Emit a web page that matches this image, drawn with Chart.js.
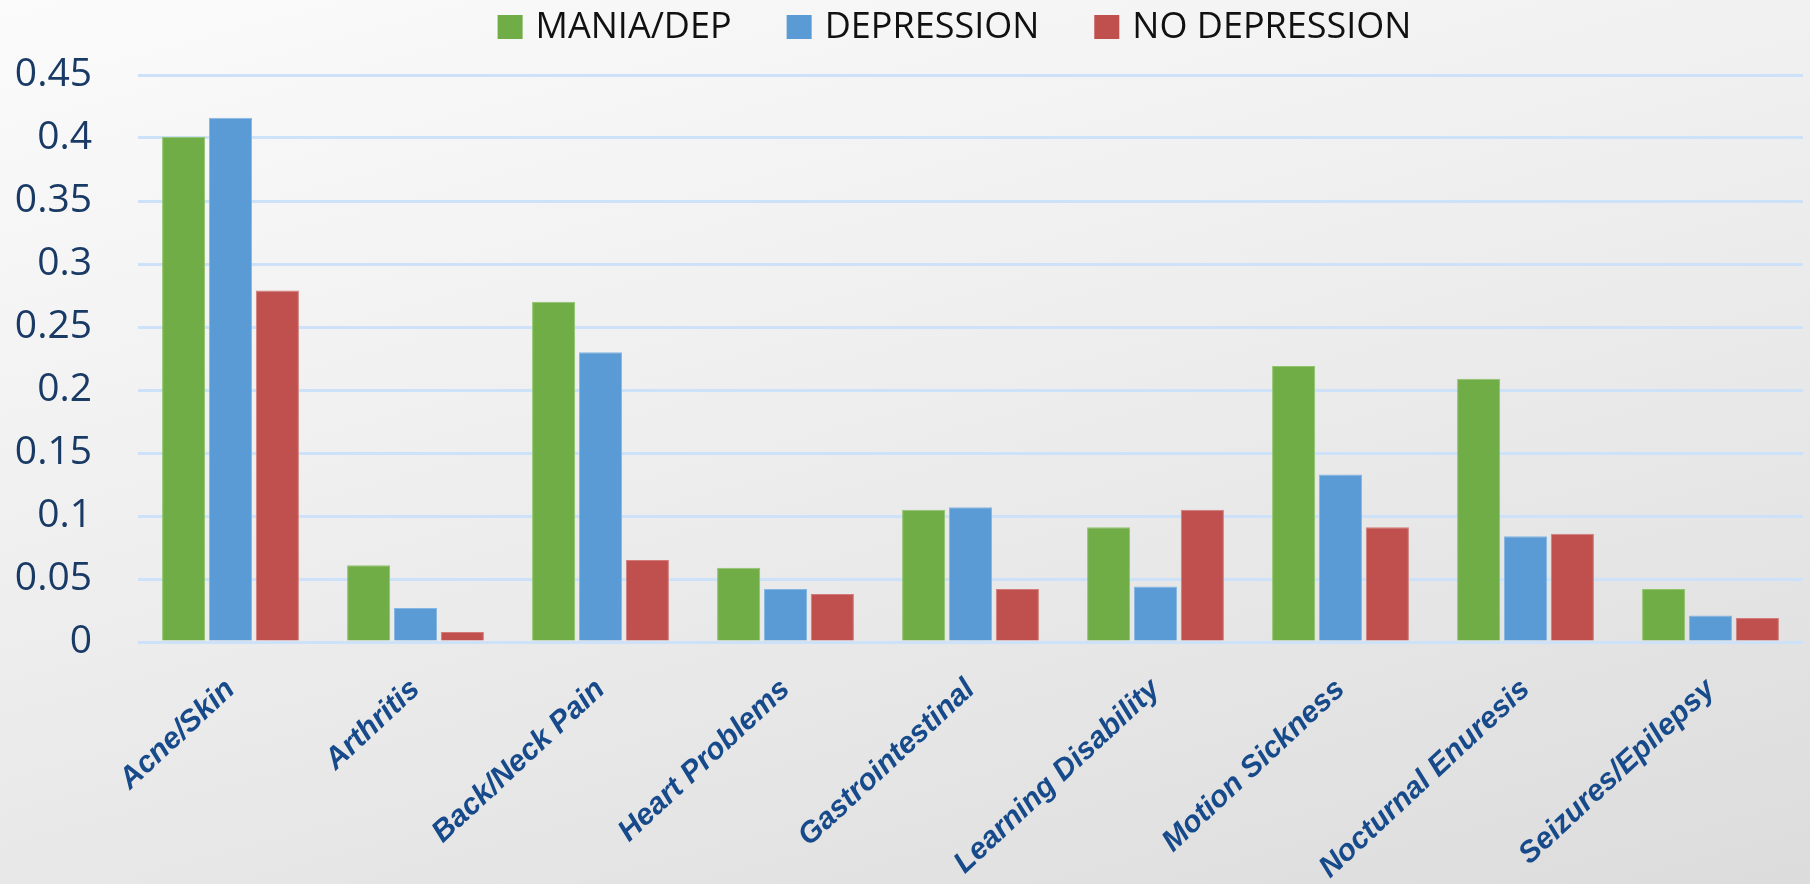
<!DOCTYPE html>
<html>
<head>
<meta charset="utf-8">
<script src="https://cdn.jsdelivr.net/npm/chart.js@4.4.1/dist/chart.umd.min.js"></script>
<style>
  html, body { margin:0; padding:0; width:1810px; height:884px; overflow:hidden; }
  body { background: linear-gradient(165deg, #fbfbfb 0%, #f1f1f1 35%, #e6e6e6 70%, #dcdcdc 100%); }
  #wrap { position:absolute; left:0; top:0; width:1810px; height:884px; }
</style>
</head>
<body>
<div id="wrap"><canvas id="c" width="1810" height="884"></canvas></div>
<script>
const categories = ['Acne/Skin','Arthritis','Back/Neck Pain','Heart Problems','Gastrointestinal','Learning Disability','Motion Sickness','Nocturnal Enuresis','Seizures/Epilepsy'];
const seriesNames = ['MANIA/DEP','DEPRESSION','NO DEPRESSION'];
const maniaDep     = [0.401, 0.061, 0.270, 0.059, 0.105, 0.091, 0.219, 0.209, 0.042];
const depression   = [0.416, 0.027, 0.230, 0.042, 0.107, 0.044, 0.133, 0.084, 0.021];
const noDepression = [0.279, 0.008, 0.065, 0.038, 0.042, 0.105, 0.091, 0.086, 0.019];
const yTickLabels  = ['0','0.05','0.1','0.15','0.2','0.25','0.3','0.35','0.4','0.45'];
const colors = ['#70ad47','#5b9bd5','#c0504d'];
const borders = ['#8fc46b','#84b6e3','#d27b78'];

const topLegend = {
  id: 'topLegend',
  afterDraw(chart) {
    const ctx = chart.ctx;
    ctx.save();
    ctx.font = '36px "Open Sans"';
    const box = 25, gapT = 13, gapI = 55;
    const items = chart.data.datasets.map(d => ({ text: d.label, color: d.backgroundColor, w: ctx.measureText(d.label).width }));
    let total = items.reduce((s, it) => s + box + gapT + it.w, 0) + gapI * (items.length - 1);
    let x = (chart.chartArea.left + chart.chartArea.right) / 2 - total / 2 - 16;
    items.forEach(it => {
      ctx.fillStyle = it.color;
      ctx.fillRect(x, 15, box, 24);
      ctx.fillStyle = '#111111';
      ctx.textBaseline = 'alphabetic';
      ctx.textAlign = 'left';
      ctx.fillText(it.text, x + box + gapT, 38);
      x += box + gapT + it.w + gapI;
    });
    ctx.restore();
  }
};

new Chart(document.getElementById('c'), {
  type: 'bar',
  data: {
    labels: categories,
    datasets: [maniaDep, depression, noDepression].map((d, i) => ({
      label: seriesNames[i],
      data: d,
      backgroundColor: colors[i],
      borderColor: borders[i],
      borderWidth: 1,
      categoryPercentage: 0.76,
      barPercentage: 0.92
    }))
  },
  options: {
    responsive: false,
    animation: false,
    layout: { padding: { top: 75, right: 7, left: 0, bottom: 0 } },
    plugins: { legend: { display: false }, tooltip: { enabled: false } },
    scales: {
      x: {
        grid: { display: false },
        border: { display: false },
        afterFit(scale) { scale.height = 242; },
        ticks: {
          autoSkip: false,
          maxRotation: 43,
          minRotation: 43,
          padding: 22,
          color: '#174a8b',
          font: { family: '"Liberation Sans", Arial, sans-serif', size: 30, style: 'italic', weight: 'bold' }
        }
      },
      y: {
        min: 0,
        max: 0.45,
        afterFit(scale) { scale.width = 138; },
        border: { display: false },
        grid: { color: '#cde2f8', lineWidth: 3, drawTicks: false },
        ticks: {
          stepSize: 0.05,
          padding: 46,
          color: '#1a3a66',
          font: { family: '"Open Sans", sans-serif', size: 39 },
          callback: (v, i) => yTickLabels[i]
        }
      }
    }
  },
  plugins: [topLegend]
});
</script>
</body>
</html>
